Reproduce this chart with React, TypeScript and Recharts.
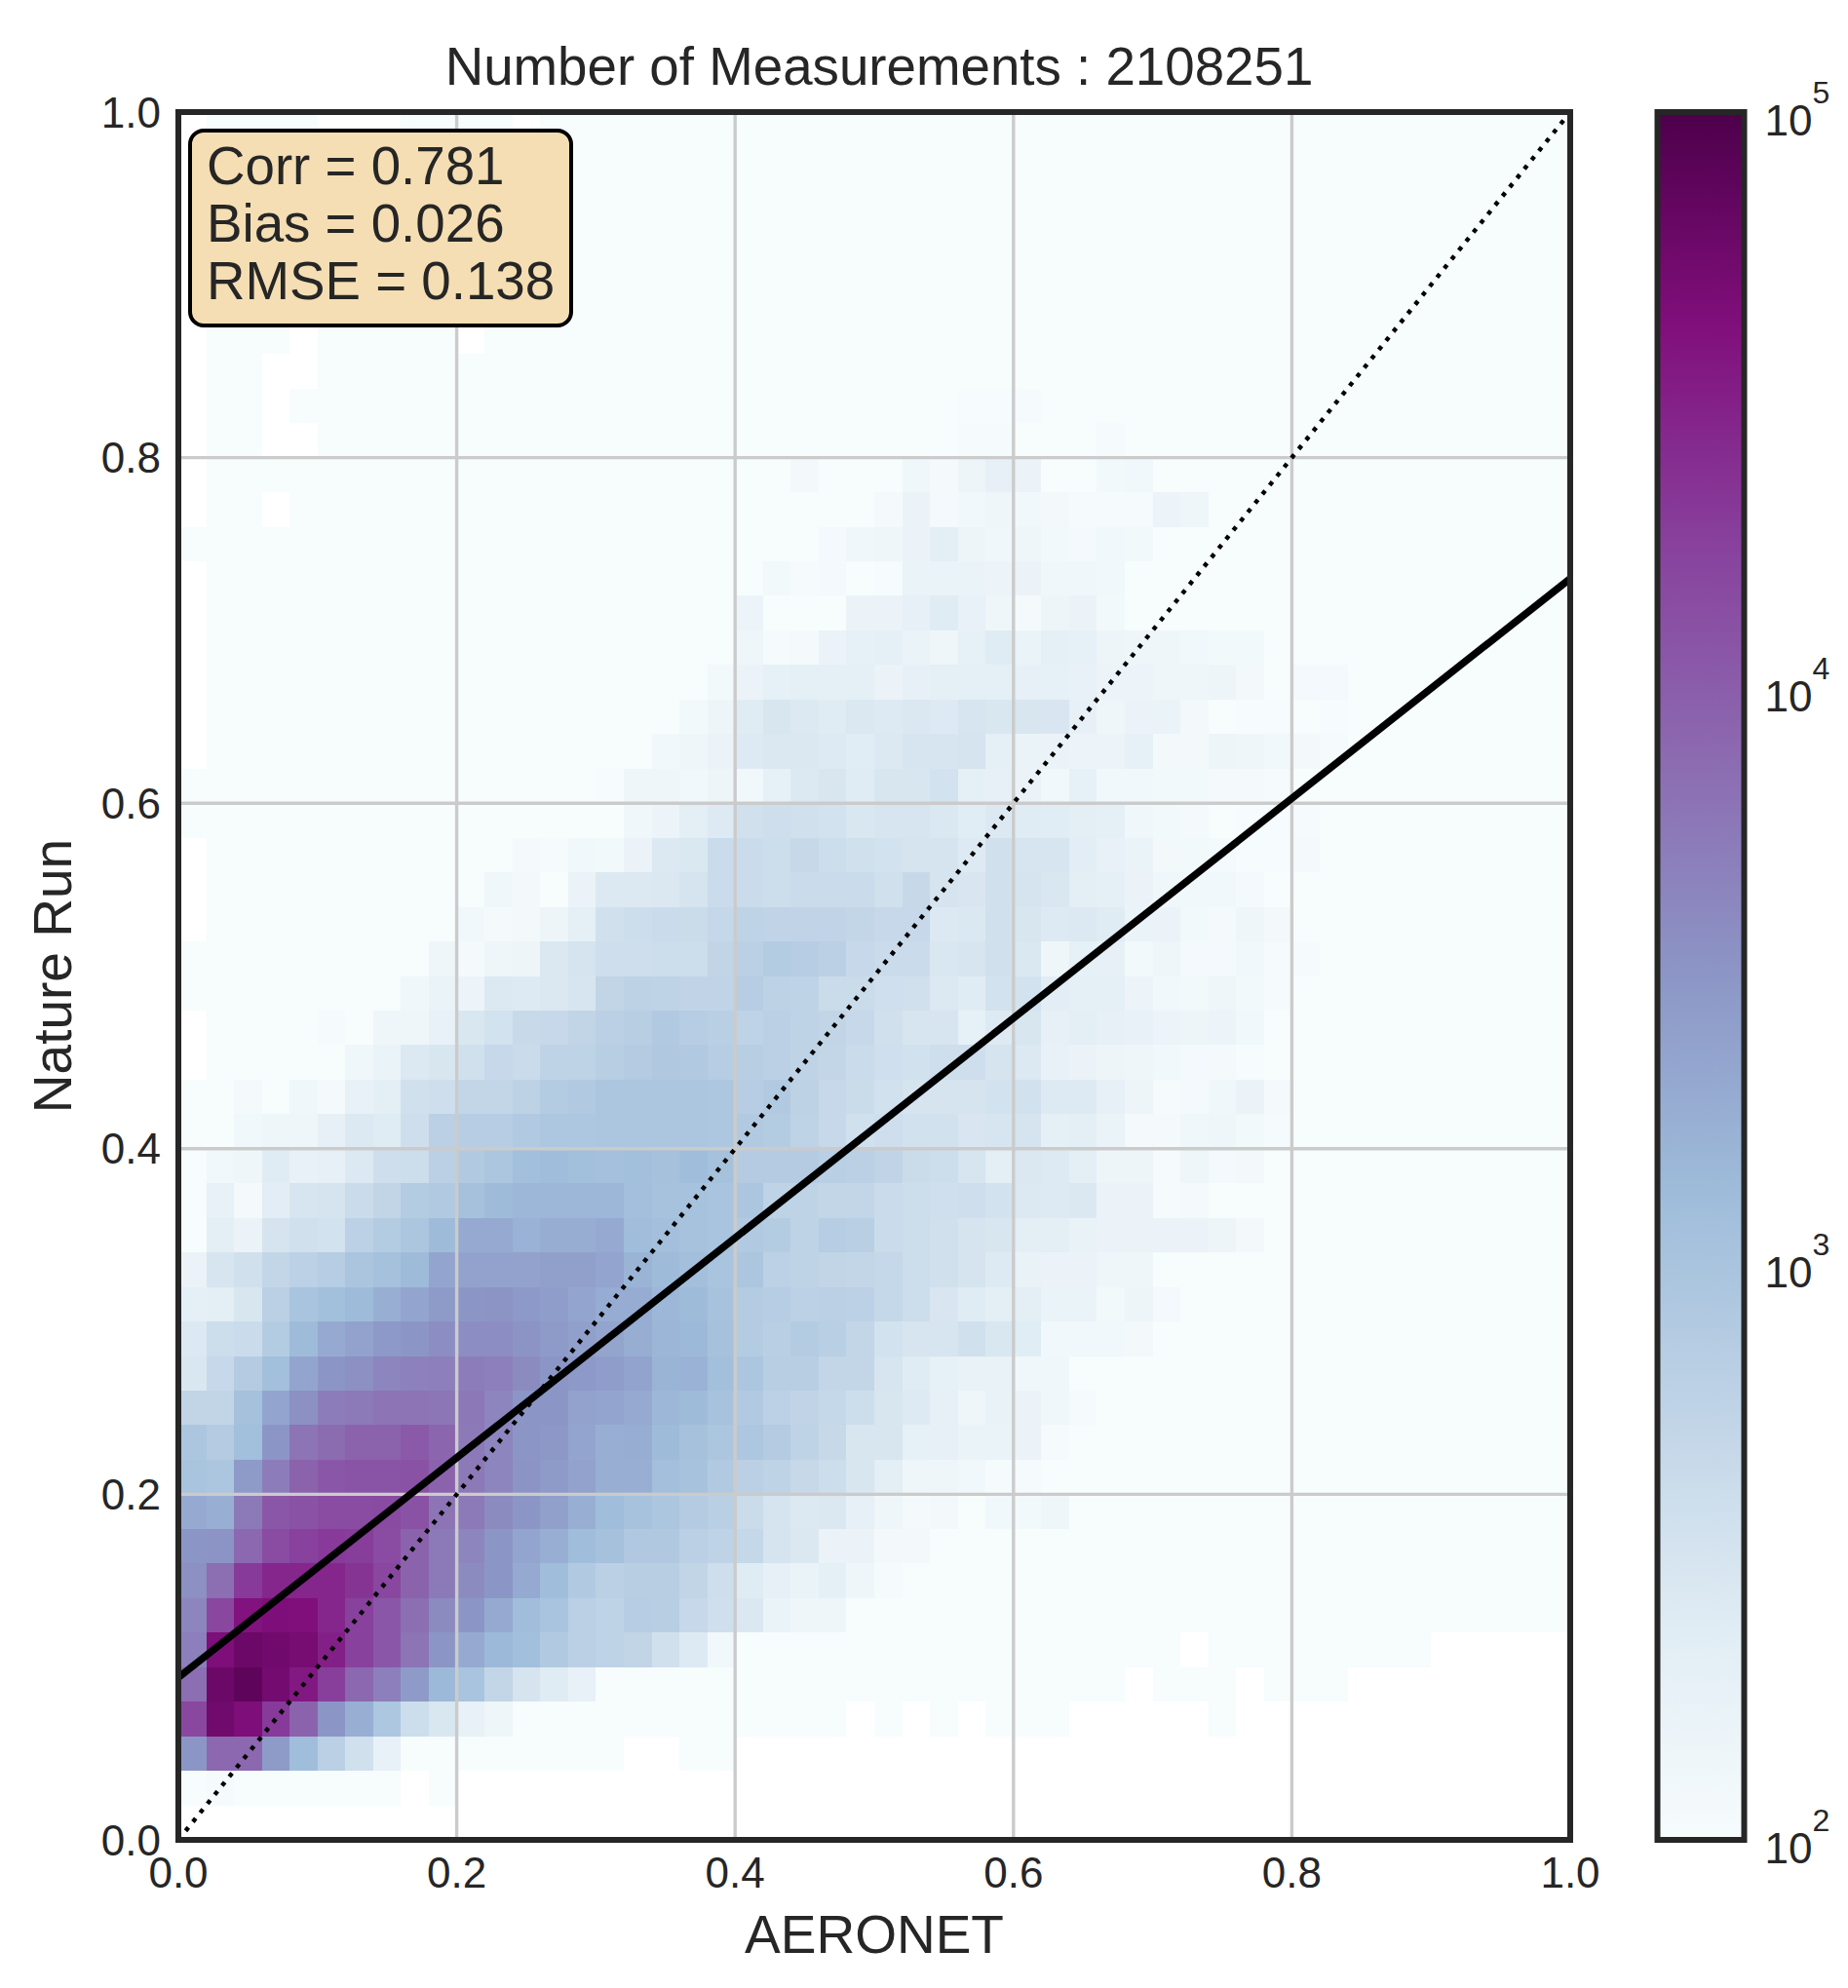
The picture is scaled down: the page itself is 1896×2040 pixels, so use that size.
import {
  Bar,
  BarChart,
  ComposedChart,
  Line,
  ReferenceArea,
  ReferenceLine,
  Scatter,
  XAxis,
  YAxis,
} from "recharts";

// log10(count) per 0.02 x 0.02 bin, row 0 is the bottom one. 0 = empty bin, 2 = 100 or below.
const row00 = [0,0,0,0,0,0,0,0,0,0, 0,0,0,0,0,0,0,0,0,0, 0,0,0,0,0,0,0,0,0,0, 0,0,0,0,0,0,0,0,0,0, 0,0,0,0,0,0,0,0,0,0];
const row01 = [2,2.03,2,2,2,2,2,2,0,2, 0,0,0,0,0,0,0,0,0,0, 0,0,0,0,0,0,0,0,0,0, 0,0,0,0,0,0,0,0,0,0, 0,0,0,0,0,0,0,0,0,0];
const row02 = [3.5,3.9,3.9,3.45,3.1,2.8,2.55,2.25,2,2, 2,2,2,2,2,2,0,0,2,2, 0,0,0,0,0,0,0,0,0,0, 0,0,0,0,0,0,0,0,0,0, 0,0,0,0,0,0,0,0,0,0];
const row03 = [4.2,4.75,4.65,4.3,3.95,3.5,3.25,2.95,2.6,2.45, 2.25,2.15,2,2,2,2,2,2,2,2, 2,2,2,2,0,2,0,2,0,2, 2,2,0,0,0,0,0,2,0,0, 0,0,0,0,0,0,0,0,0,0];
const row04 = [3.85,4.78,4.88,4.72,4.55,4.27,3.9,3.7,3.45,3.15, 3,2.7,2.5,2.38,2.25,2,2,2,2,2, 2,2,2,2,2,2,2,2,2,2, 2,2,2,2,0,2,2,2,0,2, 2,2,0,0,0,0,0,0,0,0];
const row05 = [3.7,4.65,4.78,4.74,4.7,4.5,4.25,4.05,3.8,3.5, 3.3,3.15,3.08,2.9,2.8,2.75,2.72,2.55,2.4,2.1, 2,2,2,2,2,2,2,2,2,2, 2,2,2,2,2,2,0,2,2,2, 2,2,2,2,2,0,0,0,0,0];
const row06 = [3.65,4.2,4.6,4.65,4.63,4.45,4.25,4.05,3.85,3.6, 3.5,3.3,3.1,3,2.8,2.75,2.85,2.83,2.67,2.57, 2.43,2.22,2.15,2.13,2,2,2,2,2,2, 2,2,2,2,2,2,2,2,2,2, 2,2,2,2,2,2,2,2,2,2];
const row07 = [3.55,3.85,4.3,4.45,4.45,4.45,4.35,4.2,3.95,3.75, 3.6,3.5,3.3,3.1,2.9,2.8,2.83,2.83,2.72,2.58, 2.38,2.28,2.22,2.3,2.13,2.03,2,2,2,2, 2,2,2,2,2,2,2,2,2,2, 2,2,2,2,2,2,2,2,2,2];
const row08 = [3.5,3.52,3.9,4.15,4.25,4.3,4.28,4.15,3.95,3.75, 3.65,3.5,3.35,3.25,3.1,3.05,2.92,2.92,2.8,2.75, 2.68,2.5,2.43,2.2,2.2,2.07,2.07,2,2,2, 2,2,2,2,2,2,2,2,2,2, 2,2,2,2,2,2,2,2,2,2];
const row09 = [3.3,3.25,3.75,4.05,4.1,4.15,4.15,4.17,4.1,3.8, 3.75,3.6,3.5,3.4,3.25,3.1,3.03,2.96,2.88,2.82, 2.63,2.5,2.42,2.43,2.28,2.15,2.05,2.07,2,2.1, 2.08,2.13,2,2,2,2,2,2,2,2, 2,2,2,2,2,2,2,2,2,2];
const row10 = [3,2.97,3.45,3.72,3.95,4.05,4.08,4.08,4.1,3.95, 3.75,3.65,3.52,3.45,3.38,3.25,3.25,3.07,3.02,2.9, 2.8,2.75,2.66,2.6,2.47,2.32,2.15,2.13,2.1,2.03, 2.04,2,2,2,2,2,2,2,2,2, 2,2,2,2,2,2,2,2,2,2];
const row11 = [2.97,2.88,3.08,3.5,3.8,3.87,3.95,3.95,4.03,3.93, 3.75,3.65,3.5,3.48,3.35,3.25,3.27,3.12,3.05,2.97, 2.95,2.88,2.75,2.66,2.47,2.47,2.27,2.28,2.22,2.22, 2.2,2.03,2,2,2,2,2,2,2,2, 2,2,2,2,2,2,2,2,2,2];
const row12 = [2.72,2.72,3.05,3.35,3.55,3.72,3.75,3.8,3.8,3.78, 3.77,3.65,3.5,3.5,3.38,3.35,3.3,3.17,3.12,3.03, 2.9,2.78,2.73,2.68,2.6,2.47,2.4,2.28,2.13,2.24, 2.2,2.12,2.03,2,2,2,2,2,2,2, 2,2,2,2,2,2,2,2,2,2];
const row13 = [2.45,2.67,2.88,3.08,3.35,3.5,3.55,3.65,3.68,3.7, 3.72,3.7,3.6,3.5,3.47,3.43,3.37,3.2,3.22,3.08, 2.97,2.83,2.83,2.7,2.7,2.48,2.37,2.27,2.24,2.24, 2.12,2.12,2,2,2,2,2,2,2,2, 2,2,2,2,2,2,2,2,2,2];
const row14 = [2.42,2.6,2.62,2.87,3.13,3.3,3.38,3.47,3.5,3.58, 3.58,3.58,3.52,3.46,3.4,3.36,3.27,3.18,3.15,3.05, 2.87,2.82,2.87,2.82,2.7,2.53,2.48,2.48,2.55,2.45, 2.36,2.1,2.1,2.1,2.07,2,2,2,2,2, 2,2,2,2,2,2,2,2,2,2];
const row15 = [2.3,2.33,2.47,2.8,3,3.08,3.12,3.25,3.35,3.45, 3.5,3.52,3.47,3.43,3.35,3.28,3.28,3.17,3.12,3.03, 2.87,2.85,2.78,2.8,2.78,2.68,2.6,2.46,2.38,2.33, 2.33,2.22,2.22,2.08,2.17,2.06,2,2,2,2, 2,2,2,2,2,2,2,2,2,2];
const row16 = [2.2,2.48,2.55,2.7,2.78,2.85,2.98,3.05,3.13,3.35, 3.38,3.38,3.38,3.4,3.4,3.35,3.2,3.12,3.07,3, 2.97,2.78,2.75,2.72,2.7,2.68,2.6,2.55,2.5,2.4, 2.23,2.2,2.2,2.14,2.15,2,2,2,2,2, 2,2,2,2,2,2,2,2,2,2];
const row17 = [2,2.33,2.2,2.5,2.55,2.52,2.78,2.87,2.97,3.12, 3.3,3.3,3.22,3.27,3.27,3.3,3.1,3.07,3.03,3, 2.9,2.87,2.75,2.85,2.82,2.62,2.6,2.55,2.5,2.47, 2.32,2.33,2.24,2.2,2.2,2.2,2.2,2.17,2.07,2, 2,2,2,2,2,2,2,2,2,2];
const row18 = [2,2.25,2.05,2.35,2.48,2.5,2.62,2.72,2.87,2.9, 3.05,3.12,3.17,3.17,3.17,3.17,3.07,3.03,3.03,3, 2.97,2.75,2.75,2.7,2.7,2.62,2.6,2.57,2.58,2.52, 2.42,2.4,2.43,2.2,2.2,2.03,2.05,2,2,2, 2,2,2,2,2,2,2,2,2,2];
const row19 = [2,2.1,2.15,2.38,2.25,2.28,2.42,2.58,2.6,2.8, 2.9,2.97,3.08,3.1,3.08,3.06,3.08,3.05,3.1,3.05, 2.88,2.88,2.88,2.82,2.8,2.73,2.63,2.6,2.48,2.33, 2.43,2.4,2.33,2.17,2.17,2.04,2.15,2.06,2.07,2, 2,2,2,2,2,2,2,2,2,2];
const row20 = [2,2,2.1,2.13,2.15,2.28,2.42,2.38,2.58,2.8, 2.85,2.85,2.9,2.95,2.95,2.97,2.97,2.97,2.97,2.95, 2.9,2.87,2.75,2.67,2.55,2.58,2.54,2.54,2.46,2.48, 2.5,2.3,2.33,2.22,2.05,2.05,2.12,2.14,2.08,2.03, 2,2,2,2,2,2,2,2,2,2];
const row21 = [2,2,2.05,2,2.12,2.05,2.25,2.33,2.55,2.58, 2.7,2.7,2.77,2.87,2.9,2.97,2.97,2.97,2.97,2.95, 2.85,2.9,2.77,2.67,2.63,2.54,2.5,2.5,2.5,2.52, 2.54,2.4,2.4,2.28,2.17,2.03,2.06,2.12,2.2,2.05, 2,2,2,2,2,2,2,2,2,2];
const row22 = [0,2,2,2,2,2,2.12,2.22,2.42,2.47, 2.55,2.67,2.62,2.75,2.75,2.83,2.88,2.92,2.9,2.85, 2.83,2.8,2.75,2.7,2.62,2.57,2.54,2.58,2.58,2.5, 2.42,2.25,2.2,2.17,2.13,2.1,2.06,2.05,2.02,2, 2,2,2,2,2,2,2,2,2,2];
const row23 = [0,2,2,2,2,2.03,2,2.13,2.15,2.25, 2.45,2.53,2.65,2.67,2.72,2.8,2.83,2.9,2.85,2.82, 2.75,2.8,2.75,2.72,2.67,2.55,2.48,2.48,2.27,2.4, 2.47,2.28,2.32,2.28,2.25,2.18,2.17,2.18,2.1,2, 2,2,2,2,2,2,2,2,2,2];
const row24 = [2,2,2,2,2,2,2,2,2.12,2.22, 2.18,2.42,2.4,2.43,2.48,2.72,2.76,2.75,2.73,2.73, 2.85,2.77,2.75,2.63,2.63,2.57,2.55,2.42,2.37,2.53, 2.53,2.35,2.3,2.3,2.18,2.1,2.08,2.15,2.08,2.03, 2,2,2,2,2,2,2,2,2,2];
const row25 = [2,2,2,2,2,2,2,2,2,2.13, 2.05,2.15,2.17,2.43,2.5,2.58,2.58,2.6,2.6,2.72, 2.8,2.87,2.85,2.8,2.67,2.62,2.62,2.45,2.48,2.55, 2.44,2.15,2.27,2.28,2.08,2.14,2.06,2.06,2.1,2.03, 2.03,2,2,2,2,2,2,2,2,2];
const row26 = [0,2,2,2,2,2,2,2,2,2, 2.1,2.05,2.07,2.17,2.3,2.55,2.6,2.62,2.63,2.68, 2.75,2.73,2.73,2.73,2.7,2.67,2.67,2.42,2.44,2.55, 2.47,2.4,2.42,2.38,2.22,2.2,2.08,2.05,2.15,2.07, 2,2,2,2,2,2,2,2,2,2];
const row27 = [0,2,2,2,2,2,2,2,2,2, 2,2.12,2.07,2,2.2,2.42,2.42,2.43,2.5,2.62, 2.62,2.6,2.62,2.62,2.62,2.56,2.66,2.5,2.46,2.55, 2.5,2.45,2.33,2.3,2.2,2.12,2.1,2.1,2.06,2, 2,2,2,2,2,2,2,2,2,2];
const row28 = [0,2,2,2,2,2,2,2,2,2, 2,2,2.05,2.03,2.1,2.08,2.2,2.42,2.44,2.62, 2.62,2.6,2.66,2.6,2.55,2.52,2.5,2.5,2.4,2.55, 2.48,2.48,2.34,2.25,2.22,2.07,2.08,2.06,2.02,2.02, 2.05,2,2,2,2,2,2,2,2,2];
const row29 = [2,2,2,2,2,2,2,2,2,2, 2,2,2,2,2,2,2.12,2.18,2.33,2.4, 2.55,2.58,2.55,2.52,2.45,2.48,2.48,2.44,2.36,2.42, 2.37,2.36,2.33,2.3,2.12,2.08,2.05,2,2.02,2.02, 2.03,2,2,2,2,2,2,2,2,2];
const row30 = [2,2,2,2,2,2,2,2,2,2, 2,2,2,2,2,2.02,2.13,2.13,2.1,2.16, 2.1,2.27,2.42,2.47,2.38,2.47,2.47,2.53,2.3,2.28, 2.2,2.1,2.27,2.1,2.1,2.08,2.08,2.05,2.05,2.03, 2,2,2,2,2,2,2,2,2,2];
const row31 = [0,2,2,2,2,2,2,2,2,2, 2,2,2,2,2,2,2,2.1,2.15,2.2, 2.4,2.43,2.43,2.4,2.36,2.42,2.48,2.48,2.5,2.3, 2.22,2.2,2.18,2.18,2.27,2.07,2.07,2.17,2.15,2.1, 2.07,2.03,2,2,2,2,2,2,2,2];
const row32 = [0,2,2,2,2,2,2,2,2,2, 2,2,2,2,2,2,2,2,2.08,2.17, 2.38,2.47,2.42,2.38,2.43,2.4,2.43,2.4,2.48,2.45, 2.47,2.46,2.28,2.15,2.2,2.22,2.07,2,2.02,2.02, 2,2.02,2,2,2,2,2,2,2,2];
const row33 = [0,2,2,2,2,2,2,2,2,2, 2,2,2,2,2,2,2,2,2,2.08, 2.2,2.27,2.3,2.3,2.3,2.2,2.28,2.3,2.3,2.3, 2.28,2.27,2.25,2.18,2.18,2.15,2.15,2.16,2.07,2, 2.06,2.06,2,2,2,2,2,2,2,2];
const row34 = [0,2,2,2,2,2,2,2,2,2, 2,2,2,2,2,2,2,2,2,2, 2.15,2.04,2.05,2.2,2.27,2.3,2.22,2.13,2.27,2.37, 2.22,2.3,2.27,2.17,2.15,2.13,2.1,2.08,2.08,2, 2,2,2,2,2,2,2,2,2,2];
const row35 = [0,2,2,2,2,2,2,2,2,2, 2,2,2,2,2,2,2,2,2,2, 2.18,2,2,2,2.2,2.2,2.28,2.38,2.25,2.13, 2.05,2.17,2.2,2.08,2,2,2,2,2,2, 2,2,2,2,2,2,2,2,2,2];
const row36 = [0,2,2,2,2,2,2,2,2,2, 2,2,2,2,2,2,2,2,2,2, 2,2.08,2.04,2.06,2,2.02,2.22,2.22,2.22,2.18, 2.2,2.12,2.12,2.1,2,2,2,2,2,2, 2,2,2,2,2,2,2,2,2,2];
const row37 = [2,2,2,2,2,2,2,2,2,2, 2,2,2,2,2,2,2,2,2,2, 2,2,2,2.06,2.12,2.15,2.2,2.33,2.17,2.12, 2.15,2.08,2.06,2.1,2.08,2,2,2,2,2, 2,2,2,2,2,2,2,2,2,2];
const row38 = [0,2,2,0,2,2,2,2,2,2, 2,2,2,2,2,2,2,2,2,2, 2,2,2,2,2,2.05,2.2,2.06,2.1,2.13, 2.1,2.07,2.04,2.04,2.04,2.18,2.13,2,2,2, 2,2,2,2,2,2,2,2,2,2];
const row39 = [0,2,2,2,2,2,2,2,2,2, 2,2,2,2,2,2,2,2,2,2, 2,2,2.07,2,2,2,2.12,2.05,2.17,2.28, 2.2,2,2,2.08,2.1,2,2,2,2,2, 2,2,2,2,2,2,2,2,2,2];
const row40 = [0,2,2,0,0,2,2,2,2,2, 2,2,2,2,2,2,2,2,2,2, 2,2,2,2,2,2,2,2,2.03,2.03, 2,2,2,2.03,2,2,2,2,2,2, 2,2,2,2,2,2,2,2,2,2];
const row41 = [0,2,2,0,2,2,2,2,2,2, 2,2,2,2,2,2,2,2,2,2, 2,2,2,2,2,2,2,2,2.02,2.02, 2.03,2,2,2,2,2,2,2,2,2, 2,2,2,2,2,2,2,2,2,2];
const row42 = [0,2,2,0,0,2,2,2,2,2, 2,2,2,2,2,2,2,2,2,2, 2,2,2,2,2,2,2,2,2,2, 2,2,2,2,2,2,2,2,2,2, 2,2,2,2,2,2,2,2,2,2];
const row43 = [0,2,2,2,0,2,2,2,2,2, 0,2,2,2,2,2,2,2,2,2, 2,2,2,2,2,2,2,2,2,2, 2,2,2,2,2,2,2,2,2,2, 2,2,2,2,2,2,2,2,2,2];
const row44 = [0,2,2,2,2,2,2,2,2,2, 2,2,2,2,2,2,2,2,2,2, 2,2,2,2,2,2,2,2,2,2, 2,2,2,2,2,2,2,2,2,2, 2,2,2,2,2,2,2,2,2,2];
const row45 = row44;
const row46 = row44;
const row47 = row44;
const row48 = row44;
const row49 = [0,2,2,2,2,0,0,0,2,2, 2,2,0,2,2,2,2,2,2,2, 2,2,2,2,2,2,2,2,2,2, 2,2,2,2,2,2,2,2,2,2, 2,2,2,2,2,2,2,2,2,2];

const binRows = [
  row00, row01, row02, row03, row04, row05, row06, row07, row08, row09,
  row10, row11, row12, row13, row14, row15, row16, row17, row18, row19,
  row20, row21, row22, row23, row24, row25, row26, row27, row28, row29,
  row30, row31, row32, row33, row34, row35, row36, row37, row38, row39,
  row40, row41, row42, row43, row44, row45, row46, row47, row48, row49,
];

const fitLine = [{ x: 0, y: 0.094 }, { x: 1, y: 0.73 }];
const oneToOne = [{ x: 0, y: 0 }, { x: 1, y: 1 }];
const axisTicks = [0, 0.2, 0.4, 0.6, 0.8, 1];
const gridTicks = [0.2, 0.4, 0.6, 0.8];
const cbarTicks = [2, 3, 4, 5];
const statLines = ["Corr = 0.781", "Bias = 0.026", "RMSE = 0.138"];

// BuPu, bottom to top
const bupu = ["#f7fcfd", "#e0ecf4", "#bfd3e6", "#9ebcda", "#8c96c6", "#8c6bb1", "#88419d", "#810f7c", "#4d004b"];

const FONT = "'Liberation Sans', Arial, sans-serif";
const INK = "#262626";
const PLOT_W = 1428;
const PLOT_H = 1773;
const CELL_W = PLOT_W / 50;
const CELL_H = PLOT_H / 50;

function colorFor(level: number) {
  const t = Math.min(1, (level - 2) / 3) * (bupu.length - 1);
  const i = Math.min(bupu.length - 2, Math.floor(t));
  const f = t - i;
  const ch = (hex: string, p: number) => parseInt(hex.slice(p, p + 2), 16);
  const mix = (p: number) => Math.round(ch(bupu[i], p) + (ch(bupu[i + 1], p) - ch(bupu[i], p)) * f);
  return `rgb(${mix(1)},${mix(3)},${mix(5)})`;
}

const bins = binRows.flatMap((row, r) =>
  row.flatMap((level, c) => (level > 0 ? [{ x: (c + 0.5) / 50, y: (r + 0.5) / 50, level }] : []))
);

function BinCell(props: any) {
  const { cx, cy, payload } = props;
  return (
    <rect
      x={cx - CELL_W / 2}
      y={cy - CELL_H / 2}
      width={CELL_W}
      height={CELL_H}
      fill={colorFor(payload.level)}
      shapeRendering="crispEdges"
    />
  );
}

function CbarTick(props: any) {
  const { x, y, payload } = props;
  return (
    <text x={x + 13} y={y + 24} fontFamily={FONT} fontSize={44} fill={INK}>
      10
      <tspan dy={-33} fontSize={32}>{payload.value}</tspan>
    </text>
  );
}

const fmt = (v: number) => v.toFixed(1);
const tickStyle = { fontSize: 44, fill: INK, fontFamily: FONT };
const labelStyle = { fontSize: 55, fill: INK, fontFamily: FONT };

export default function App() {
  return (
    <div style={{ position: "absolute", left: 0, top: 0, width: 1896, height: 2040, background: "#fff" }}>
      <div style={{ position: "absolute", left: 0, top: 0 }}>
        <ComposedChart width={1896} height={2040} margin={{ top: 115, right: 285, bottom: 36, left: 83 }}>
          <XAxis
            type="number"
            dataKey="x"
            domain={[0, 1]}
            ticks={axisTicks}
            tickFormatter={fmt}
            tickLine={false}
            axisLine={false}
            tickSize={0}
            tickMargin={18}
            height={116}
            tick={tickStyle}
            label={{ value: "AERONET", position: "insideBottom", offset: 0, style: labelStyle }}
          />
          <YAxis
            type="number"
            dataKey="y"
            domain={[0, 1]}
            ticks={axisTicks}
            tickFormatter={fmt}
            tickLine={false}
            axisLine={false}
            tickSize={0}
            tickMargin={18}
            width={100}
            tick={tickStyle}
            label={{ value: "Nature Run", angle: -90, position: "insideLeft", offset: -30, style: { ...labelStyle, textAnchor: "middle" } }}
          />
          <Scatter data={bins} shape={BinCell} isAnimationActive={false} zIndex={1} />
          {gridTicks.map((v) => (
            <ReferenceLine key={`gx${v}`} x={v} stroke="#cbcbcb" strokeWidth={3.4} zIndex={2} />
          ))}
          {gridTicks.map((v) => (
            <ReferenceLine key={`gy${v}`} y={v} stroke="#cbcbcb" strokeWidth={3.4} zIndex={2} />
          ))}
          <Line data={oneToOne} dataKey="y" stroke="#000" strokeWidth={4.5} strokeDasharray="4.5 7.4" dot={false} isAnimationActive={false} zIndex={3} />
          <Line data={fitLine} dataKey="y" stroke="#000" strokeWidth={7.5} dot={false} isAnimationActive={false} zIndex={4} />
          <ReferenceArea x1={0} x2={1} y1={0} y2={1} fill="none" fillOpacity={0} stroke={INK} strokeWidth={6} strokeOpacity={1} zIndex={5} />
        </ComposedChart>
      </div>

      <div style={{ position: "absolute", left: 1600, top: 0 }}>
        <BarChart
          width={296}
          height={2040}
          data={[{ name: "count", range: [2, 5] }]}
          margin={{ top: 115, right: 6.5, bottom: 152, left: 100.5 }}
          barCategoryGap={0}
        >
          <defs>
            <linearGradient id="cbarFill" x1="0" y1="1" x2="0" y2="0">
              {bupu.map((c, i) => (
                <stop key={c} offset={i / (bupu.length - 1)} stopColor={c} />
              ))}
            </linearGradient>
          </defs>
          <XAxis dataKey="name" hide />
          <YAxis
            orientation="right"
            type="number"
            domain={[2, 5]}
            ticks={cbarTicks}
            tickLine={false}
            axisLine={false}
            width={100}
            tick={CbarTick}
            interval={0}
          />
          <Bar dataKey="range" fill="url(#cbarFill)" stroke={INK} strokeWidth={6} isAnimationActive={false} />
        </BarChart>
      </div>

      <svg width={1896} height={2040} style={{ position: "absolute", left: 0, top: 0, pointerEvents: "none" }}>
        <text x={902} y={87} textAnchor="middle" fontFamily={FONT} fontSize={54.7} fill={INK}>
          Number of Measurements : 2108251
        </text>
        <rect x={195} y={134} width={391} height={200} rx={14} ry={14} fill="#f5deb3" stroke="#000" strokeWidth={4} />
        {statLines.map((t, i) => (
          <text key={t} x={212} y={189 + i * 59} fontFamily={FONT} fontSize={54.7} fill={INK}>
            {t}
          </text>
        ))}
      </svg>
    </div>
  );
}
